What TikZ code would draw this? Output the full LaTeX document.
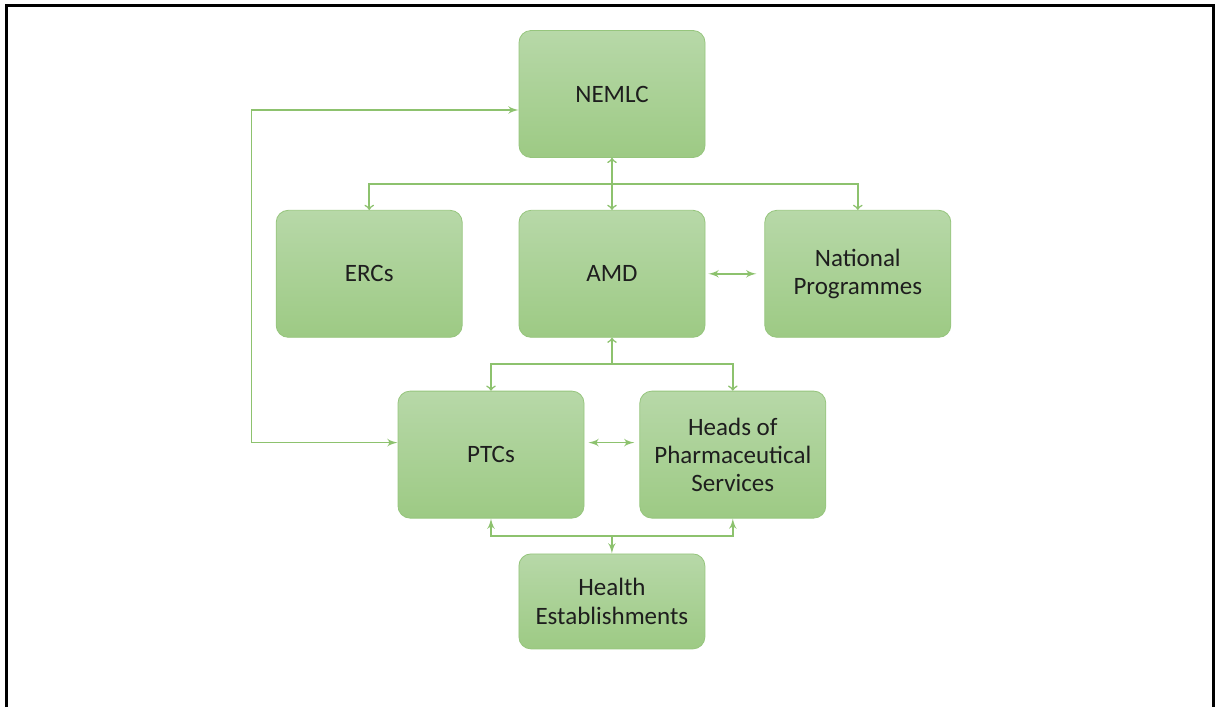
\documentclass[tikz,border=0pt]{standalone}
\usepackage{fontspec}
\setmainfont{Carlito}
\usetikzlibrary{arrows,positioning,calc}
\definecolor{boxtop}{RGB}{183,216,168}
\definecolor{boxbot}{RGB}{157,202,132}
\definecolor{boxline}{RGB}{150,197,125}
\definecolor{linkgreen}{RGB}{141,194,110}
\definecolor{ink}{RGB}{30,30,30}

\begin{document}
\begin{tikzpicture}[x=0.5pt, y=-0.5pt, node distance=26pt]
  \tikzset{
    unit/.style={draw=boxline, line width=0.4pt, rounded corners=6pt,
      top color=boxtop, bottom color=boxbot,
      minimum width=93pt, minimum height=63.5pt, align=center,
      text=ink, font=\fontsize{12.5}{14}\selectfont},
    smallunit/.style={unit, minimum height=47.5pt},
    openarrow/.style={->, >=to, linkgreen, line width=0.8pt},
    filledarrow/.style={->, >=latex', linkgreen, line width=0.8pt},
  }
  \useasboundingbox (0,0) rectangle (1219,707);
  % outer frame, open at the bottom
  \draw[line width=1.5pt] (6,707) -- (6,5) -- (1213,5) -- (1213,707);

  \node[unit] (nemlc) at (612,94) {NEMLC};
  \node[unit] (amd) [below=26pt of nemlc] {AMD};
  \node[unit] (ercs) [left=28pt of amd] {ERCs};
  \node[unit] (natprog) [right=29.5pt of amd] {National\\Programmes};
  \node[unit] (ptcs) [below=26.5pt of amd, xshift=-60.5pt] {PTCs};
  \node[unit] (heads) [right=27.5pt of ptcs] {Heads of\\Pharmaceutical\\Services};
  \coordinate (lowbus) at ($(ptcs.south)!0.5!(heads.south)+(0,-8.75pt)$);
  \node[smallunit] (health) [below=8.75pt of lowbus] {Health\\Establishments};

  \coordinate (topbus) at ($(nemlc.south)!0.5!(amd.north)$);
  \coordinate (midbus) at ($(amd.south)+(0,-13.25pt)$);

  \draw[openarrow, <->] (nemlc) -- (amd);
  \draw[openarrow] (topbus) -| (ercs);
  \draw[openarrow] (topbus) -| (natprog);
  \draw[openarrow] (midbus) -- (amd);
  \draw[openarrow] (midbus) -| (ptcs);
  \draw[openarrow] (midbus) -| (heads);

  \draw[filledarrow, <->, shorten <=1.5pt, shorten >=4pt] (amd) -- (natprog);
  \draw[filledarrow, <->, shorten <=2pt, shorten >=2.5pt]
    ([yshift=6pt]ptcs.east) -- ([yshift=6pt]heads.west);

  \draw[filledarrow] (lowbus) -| (ptcs);
  \draw[filledarrow] (lowbus) -| (heads);
  \draw[filledarrow] (lowbus) -- (health);

  \draw[filledarrow, <->] ([yshift=-8pt]nemlc.west) -- ++(-133.5pt,0)
    |- ([yshift=6pt]ptcs.west);
\end{tikzpicture}
\end{document}
